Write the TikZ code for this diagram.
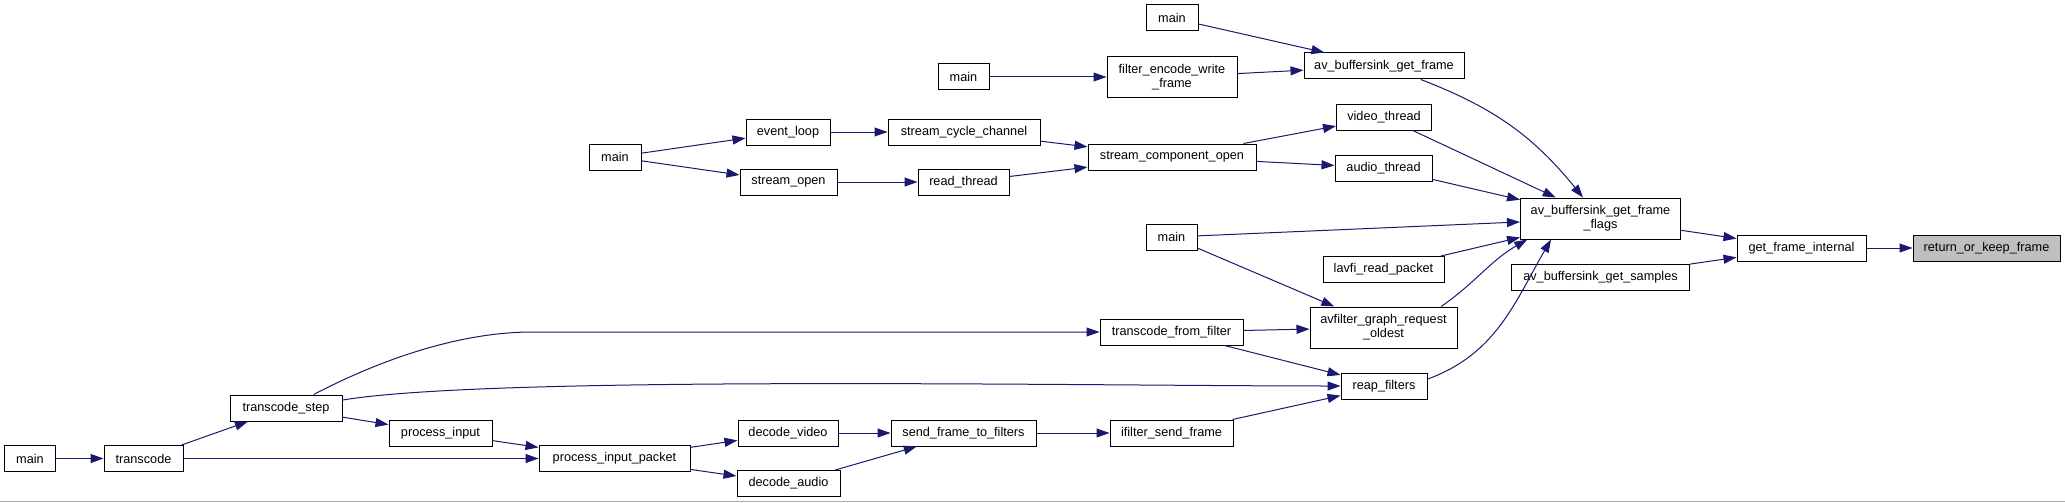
\documentclass[tikz,border=0pt]{standalone}
\usepackage{fontspec}
\setmainfont{Liberation Sans}
\usepackage{xcolor}
\usepackage{tikz}
\usetikzlibrary{arrows.meta}

\definecolor{edgeblue}{HTML}{191970}
\definecolor{rootgray}{HTML}{BFBFBF}

\begin{document}
\begin{tikzpicture}[
  x=1pt, y=1pt,
  fn/.style={draw=black, line width=1pt, fill=white, inner sep=1pt, align=center, font=\fontsize{12.7}{14}\selectfont},
  root/.style={fn, fill=rootgray},
  call/.style={draw=edgeblue, line width=1pt, -{Triangle[length=13pt,width=9pt]}},
  rule/.style={draw=gray!65, line width=1pt}
]
  \useasboundingbox[fill=white] (0,0) rectangle (2065,-503);
  \draw[rule] (0,-501.5) -- (2065,-501.5);
  % boxes: name/x/y/width/height/label
  \foreach \name/\x/\y/\w/\h/\txt in {
    maina/30/-458.5/51/26/main,
    tc/143.5/-458.5/79/26/transcode,
    tstep/286/-408/112/26/transcode\_step,
    pin/440.5/-433/103/26/process\_input,
    pip/614.5/-458.5/151/26/process\_input\_packet,
    dvid/788/-433/100/26/decode\_video,
    daud/788.5/-483.5/103/26/decode\_audio,
    sftf/963.5/-433/145/26/send\_frame\_to\_filters,
    isf/1171.5/-433/123/26/ifilter\_send\_frame,
    tff/1171.5/-332/143/26/transcode\_from\_filter,
    agro/1383.5/-327.5/147/41/{avfilter\_graph\_request\\\_oldest},
    reap/1384/-386/86/26/reap\_filters,
    mainb/1171.5/-237/51/26/main,
    lavfi/1383.5/-269.5/121/26/lavfi\_read\_packet,
    flags/1600.5/-218.5/160/41/{av\_buffersink\_get\_frame\\\_flags},
    samples/1600.5/-277/178/26/av\_buffersink\_get\_samples,
    gfi/1801.5/-248/129/26/get\_frame\_internal,
    bgf/1384/-66/160/26/av\_buffersink\_get\_frame,
    maint/1172/-18/52/26/main,
    fewf/1172/-77/130/40/{filter\_encode\_write\\\_frame},
    mainf/963.5/-77/51/26/main,
    vthr/1384/-117/95/26/video\_thread,
    athr/1383.5/-168/97/26/audio\_thread,
    sco/1172/-157/168/26/stream\_component\_open,
    scc/964/-132/152/26/stream\_cycle\_channel,
    rthr/963.5/-182/91/26/read\_thread,
    evl/788/-132/84/26/event\_loop,
    sopen/788.5/-182/97/26/stream\_open,
    mainu/615/-157/52/26/main} {
    \node[fn, minimum width=\w, minimum height=\h] (\name) at (\x,\y) {\txt};
  }
  \node[root, minimum width=147, minimum height=26] (rokf) at (1986.5,-248) {return\_or\_keep\_frame};
  % straight calls
  \foreach \a/\b in {
    maina/tc, tc/tstep, tc/pip, tstep/pin, pin/pip,
    pip/dvid, pip/daud, dvid/sftf, daud/sftf, sftf/isf, isf/reap,
    tff/agro, tff/reap, mainb/agro, mainb/flags, lavfi/flags,
    athr/flags, vthr/flags, maint/bgf, fewf/bgf, mainf/fewf,
    sco/vthr, sco/athr, scc/sco, rthr/sco,
    mainu/evl, mainu/sopen, evl/scc, sopen/rthr,
    flags/gfi, samples/gfi, gfi/rokf} {
    \draw[call] (\a) -- (\b);
  }
  % curved calls
  \draw[call] (bgf) to[bend left=15] (flags);
  \draw[call] (agro.20) to[out=35,in=210] (flags.196);
  \draw[call] (reap.9) to[out=20,in=240] (flags.203);
  \draw[call] (tstep.26) .. controls +(67,35) and +(-73,0) .. ([xshift=-567pt]tff.west) -- (tff.west);
  \draw[call] (tstep.8) .. controls +(150,25) and +(-250,0) .. (reap.west);
\end{tikzpicture}
\end{document}
